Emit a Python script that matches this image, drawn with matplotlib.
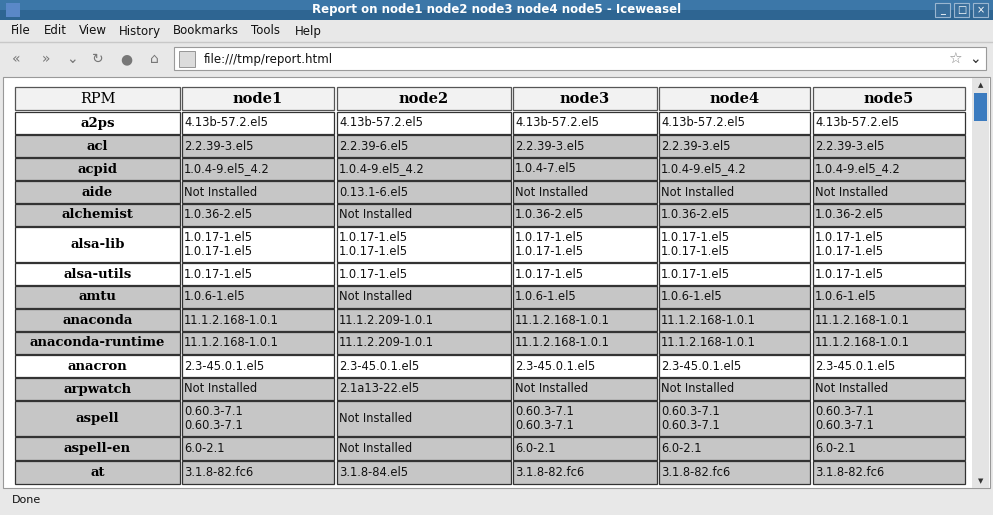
import matplotlib.pyplot as plt
from matplotlib.patches import Rectangle

# Table data
nodes = ['node1', 'node2', 'node3', 'node4', 'node5']
packages = ['a2ps', 'acl', 'acpid', 'aide', 'alchemist', 'alsa-lib', 'alsa-utils', 'amtu',
            'anaconda', 'anaconda-runtime', 'anacron', 'arpwatch', 'aspell', 'aspell-en', 'at']
NI = 'Not Installed'
node1 = ['4.13b-57.2.el5', '2.2.39-3.el5', '1.0.4-9.el5_4.2', NI, '1.0.36-2.el5',
         '1.0.17-1.el5\n1.0.17-1.el5', '1.0.17-1.el5', '1.0.6-1.el5', '11.1.2.168-1.0.1',
         '11.1.2.168-1.0.1', '2.3-45.0.1.el5', NI, '0.60.3-7.1\n0.60.3-7.1', '6.0-2.1', '3.1.8-82.fc6']
node2 = ['4.13b-57.2.el5', '2.2.39-6.el5', '1.0.4-9.el5_4.2', '0.13.1-6.el5', NI,
         '1.0.17-1.el5\n1.0.17-1.el5', '1.0.17-1.el5', NI, '11.1.2.209-1.0.1',
         '11.1.2.209-1.0.1', '2.3-45.0.1.el5', '2.1a13-22.el5', NI, NI, '3.1.8-84.el5']
node3 = ['4.13b-57.2.el5', '2.2.39-3.el5', '1.0.4-7.el5', NI, '1.0.36-2.el5',
         '1.0.17-1.el5\n1.0.17-1.el5', '1.0.17-1.el5', '1.0.6-1.el5', '11.1.2.168-1.0.1',
         '11.1.2.168-1.0.1', '2.3-45.0.1.el5', NI, '0.60.3-7.1\n0.60.3-7.1', '6.0-2.1', '3.1.8-82.fc6']
node4 = ['4.13b-57.2.el5', '2.2.39-3.el5', '1.0.4-9.el5_4.2', NI, '1.0.36-2.el5',
         '1.0.17-1.el5\n1.0.17-1.el5', '1.0.17-1.el5', '1.0.6-1.el5', '11.1.2.168-1.0.1',
         '11.1.2.168-1.0.1', '2.3-45.0.1.el5', NI, '0.60.3-7.1\n0.60.3-7.1', '6.0-2.1', '3.1.8-82.fc6']
node5 = ['4.13b-57.2.el5', '2.2.39-3.el5', '1.0.4-9.el5_4.2', NI, '1.0.36-2.el5',
         '1.0.17-1.el5\n1.0.17-1.el5', '1.0.17-1.el5', '1.0.6-1.el5', '11.1.2.168-1.0.1',
         '11.1.2.168-1.0.1', '2.3-45.0.1.el5', NI, '0.60.3-7.1\n0.60.3-7.1', '6.0-2.1', '3.1.8-82.fc6']
white_rows = ['a2ps', 'alsa-lib', 'alsa-utils', 'anacron']
menu_items = ['File', 'Edit', 'View', 'History', 'Bookmarks', 'Tools', 'Help']

W, H = 993, 515
fig = plt.figure(figsize=(W / 100, H / 100), dpi=100)
ax = fig.add_axes([0, 0, 1, 1])
ax.set_xlim(0, W)
ax.set_ylim(H, 0)
ax.axis('off')

def rect(x, y, w, h, fc, ec='none', lw=1, z=1):
    ax.add_patch(Rectangle((x, y), w, h, facecolor=fc, edgecolor=ec, linewidth=lw, zorder=z))

# window chrome
rect(0, 0, W, H, '#e8e8e8')
rect(0, 0, W, 20, '#2e6592')
rect(0, 0, W, 10, '#3c77a8')
ax.text(W / 2, 10, 'Report on node1 node2 node3 node4 node5 - Iceweasel', color='white',
        fontsize=8.5, fontweight='bold', ha='center', va='center', family='DejaVu Sans')
for i, s in enumerate(['_', '□', '×']):
    rect(935 + i * 19, 3, 15, 14, '#3a6f9c', '#9ab6d0', 0.8)
    ax.text(942.5 + i * 19, 10, s, color='white', fontsize=7, ha='center', va='center')
rect(6, 3, 14, 14, '#5a88c8')
menu_x = [11, 44, 79, 119, 173, 251, 295]
for x, m in zip(menu_x, menu_items):
    ax.text(x, 31, m, fontsize=8.5, ha='left', va='center', color='#111')
ax.plot([0, W], [42, 42], color='#c8c8c8', lw=1)
for x, s in zip([16, 46, 72, 98, 126, 154], ['«', '»', '⌄', '↻', '●', '⌂']):
    ax.text(x, 59, s, fontsize=10, ha='center', va='center', color='#777')
rect(174, 47, 812, 23, 'white', '#9a9a9a', 0.8, z=2)
rect(179, 51, 16, 16, '#dcdcdc', '#888', 0.6, z=3)
ax.text(204, 59, 'file:///tmp/report.html', fontsize=8.5, ha='left', va='center', color='#111', zorder=4)
ax.text(955, 59, '☆', fontsize=11, ha='center', va='center', color='#888', zorder=4)
ax.text(975, 59, '⌄', fontsize=10, ha='center', va='center', color='#333', zorder=4)

# page area and scrollbar
rect(3, 77, 987, 411, 'white', '#999', 0.8, z=2)
rect(972, 78, 17, 410, '#e4e4e4', z=3)
rect(974, 93, 13, 28, '#3b7bbf', z=4)
ax.text(980.5, 85, '▲', fontsize=5, ha='center', va='center', color='#333', zorder=5)
ax.text(980.5, 481, '▼', fontsize=5, ha='center', va='center', color='#333', zorder=5)
ax.text(12, 500, 'Done', fontsize=8, ha='left', va='center', color='#111')

# table
col_x = [15, 182, 337, 513, 659, 813]
col_w = [165, 152, 174, 144, 151, 152]
row_h = [22 if '\n' not in v else 35 for v in node1]
row_h[packages.index('aspell-en')] = 23
row_h[packages.index('at')] = 23
serif = ['DejaVu Serif']
values = [node1, node2, node3, node4, node5]

y = 87
for c in range(6):
    rect(col_x[c], y, col_w[c], 23, '#f2f2f2', '#555', 0.9, z=5)
    ax.text(col_x[c] + col_w[c] / 2, y + 12, 'RPM' if c == 0 else nodes[c - 1],
            fontsize=10.5, ha='center', va='center', family=serif,
            fontweight='normal' if c == 0 else 'bold', zorder=6)
y += 25
for r, pkg in enumerate(packages):
    h = row_h[r]
    fc = 'white' if pkg in white_rows else '#c6c6c6'
    rect(col_x[0], y, col_w[0], h, fc, '#333', 0.9, z=5)
    ax.text(col_x[0] + col_w[0] / 2, y + h / 2, pkg, fontsize=9.5, ha='center', va='center',
            family=serif, fontweight='bold', zorder=6)
    for c in range(5):
        rect(col_x[c + 1], y, col_w[c + 1], h, fc, '#333', 0.9, z=5)
        ax.text(col_x[c + 1] + 2, y + h / 2, values[c][r], fontsize=8.3, ha='left', va='center',
                linespacing=1.15, color='#111', zorder=6)
    y += h + 1

fig.savefig('out.png', dpi=100)
